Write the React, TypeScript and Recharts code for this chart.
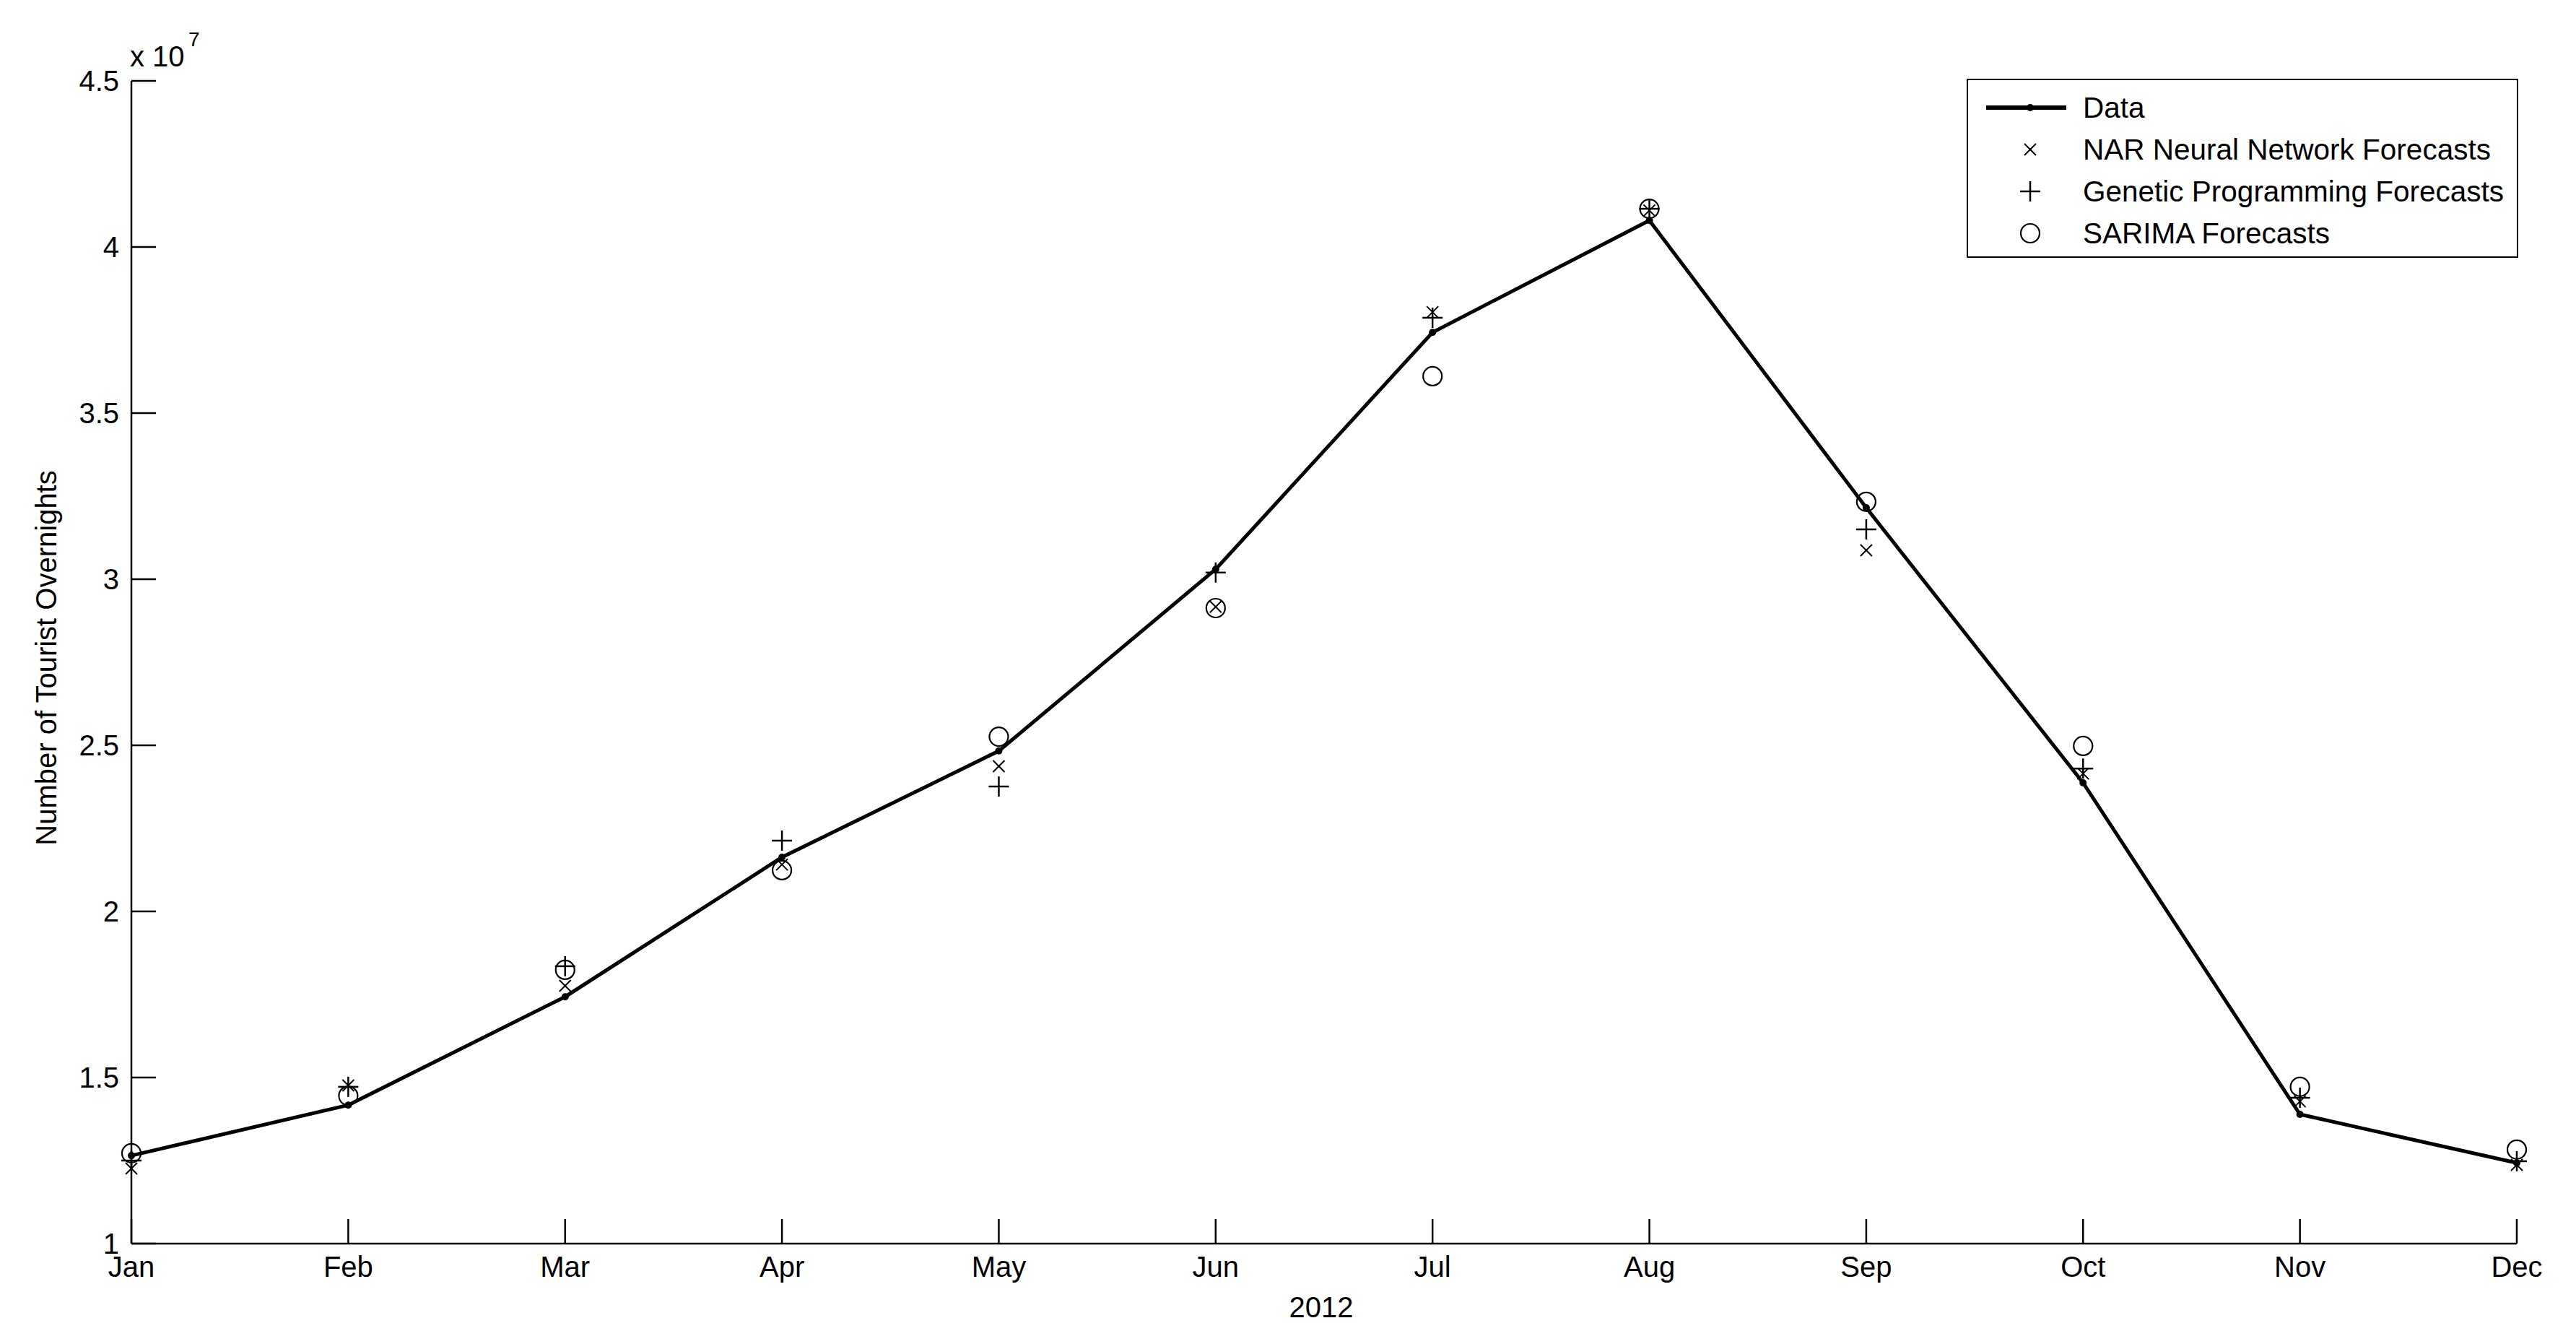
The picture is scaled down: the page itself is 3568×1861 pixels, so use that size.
import { LineChart, Line, XAxis, YAxis, Legend, Label } from "recharts";

const months = ["Jan", "Feb", "Mar", "Apr", "May", "Jun", "Jul", "Aug", "Sep", "Oct", "Nov", "Dec"];

// values, in units of 10^7 overnights
const actual = [1.265, 1.417, 1.743, 2.163, 2.483, 3.03, 3.743, 4.08, 3.215, 2.387, 1.389, 1.243];
const narForecast = [1.226, 1.476, 1.776, 2.141, 2.437, 2.917, 3.804, 4.11, 3.087, 2.415, 1.428, 1.237];
const gpForecast = [1.25, 1.472, 1.835, 2.213, 2.376, 3.02, 3.787, 4.115, 3.15, 2.43, 1.439, 1.248];
const sarimaForecast = [1.272, 1.445, 1.824, 2.124, 2.526, 2.913, 3.611, 4.115, 3.233, 2.498, 1.472, 1.283];

const yTicks = [1, 1.5, 2, 2.5, 3, 3.5, 4, 4.5].map((v) => v * 1e7);

const seriesNames = [
  "Data",
  "NAR Neural Network Forecasts",
  "Genetic Programming Forecasts",
  "SARIMA Forecasts",
];

const FONT = "'Liberation Sans', Arial, sans-serif";
const W = 3568;
const H = 1861;

const rows = months.map((m, i) => ({
  month: m,
  data: actual[i] * 1e7,
  nar: narForecast[i] * 1e7,
  gp: gpForecast[i] * 1e7,
  sarima: sarimaForecast[i] * 1e7,
}));

type DotProps = { cx?: number; cy?: number; index?: number };

function DataDot({ cx, cy, index }: DotProps) {
  if (cx == null || cy == null) return null;
  return <circle key={`d-${index}`} cx={cx} cy={cy} r={5} fill="#000" stroke="none" />;
}

function CrossDot({ cx, cy, index }: DotProps) {
  if (cx == null || cy == null) return null;
  const s = 8;
  return (
    <g key={`x-${index}`} stroke="#000" strokeWidth={2}>
      <line x1={cx - s} y1={cy - s} x2={cx + s} y2={cy + s} />
      <line x1={cx - s} y1={cy + s} x2={cx + s} y2={cy - s} />
    </g>
  );
}

function PlusDot({ cx, cy, index }: DotProps) {
  if (cx == null || cy == null) return null;
  const s = 14;
  return (
    <g key={`p-${index}`} stroke="#000" strokeWidth={2.5}>
      <line x1={cx - s} y1={cy} x2={cx + s} y2={cy} />
      <line x1={cx} y1={cy - s} x2={cx} y2={cy + s} />
    </g>
  );
}

function CircleDot({ cx, cy, index }: DotProps) {
  if (cx == null || cy == null) return null;
  return <circle key={`o-${index}`} cx={cx} cy={cy} r={13} fill="none" stroke="#000" strokeWidth={2.2} />;
}

function LegendIcon({ kind }: { kind: number }) {
  // 140 x 40 icon box, marker centred at 86
  return (
    <svg width={140} height={40} style={{ display: "block" }}>
      {kind === 0 && (
        <g>
          <line x1={25} y1={20} x2={136} y2={20} stroke="#000" strokeWidth={6} />
          <circle cx={86} cy={20} r={5} fill="#000" />
        </g>
      )}
      {kind === 1 && <CrossDot cx={86} cy={20} index={0} />}
      {kind === 2 && <PlusDot cx={86} cy={20} index={0} />}
      {kind === 3 && <CircleDot cx={86} cy={20} index={0} />}
    </svg>
  );
}

function renderLegend() {
  return (
    <div
      style={{
        boxSizing: "border-box",
        width: 764,
        height: 248,
        border: "2.5px solid #000",
        background: "#fff",
        paddingTop: 9,
        fontFamily: FONT,
        fontSize: 40.5,
        color: "#000",
      }}
    >
      {seriesNames.map((name, i) => (
        <div key={name} style={{ display: "flex", alignItems: "center", height: 58 }}>
          <LegendIcon kind={i} />
          <span style={{ marginLeft: 19, lineHeight: "40px" }}>{name}</span>
        </div>
      ))}
    </div>
  );
}

function YTitle(props: any) {
  const vb = props.viewBox || { x: 0, y: 112, width: 182, height: 1610 };
  const cy = vb.y + vb.height / 2 - 6;
  return (
    <g fontFamily={FONT} fill="#000">
      <text x={78} y={cy} fontSize={40} textAnchor="middle" transform={`rotate(-90 78 ${cy})`}>
        Number of Tourist Overnights
      </text>
      <text x={180} y={92} fontSize={40}>
        x 10
      </text>
      <text x={261} y={64} fontSize={28}>
        7
      </text>
    </g>
  );
}

function XTitle(props: any) {
  const vb = props.viewBox || { x: 182, y: 1722, width: 3304, height: 139 };
  return (
    <text x={vb.x + vb.width / 2 - 4} y={1824} fontFamily={FONT} fontSize={40} fill="#000" textAnchor="middle">
      2012
    </text>
  );
}

const axisStyle = { stroke: "#000", strokeWidth: 2.5 };
const tickStyle = { fill: "#000", fontSize: 40, fontFamily: FONT };

export default function App() {
  return (
    <div style={{ position: "absolute", left: 0, top: 0, width: W, height: H, background: "#fff" }}>
      <LineChart width={W} height={H} data={rows} margin={{ top: 112, right: 82, bottom: 0, left: 0 }}>
        <XAxis
          dataKey="month"
          height={139}
          interval={0}
          tickSize={-34}
          tickMargin={52}
          axisLine={axisStyle}
          tickLine={axisStyle}
          tick={tickStyle}
        >
          <Label content={XTitle} />
        </XAxis>
        <XAxis
          xAxisId="top"
          orientation="top"
          dataKey="month"
          height={0}
          interval={0}
          tickSize={-34}
          axisLine={axisStyle}
          tickLine={axisStyle}
          tick={false}
        />
        <YAxis
          width={182}
          type="number"
          domain={[1e7, 4.5e7]}
          ticks={yTicks}
          interval={0}
          allowDataOverflow
          tickSize={-34}
          tickMargin={51}
          axisLine={axisStyle}
          tickLine={axisStyle}
          tick={tickStyle}
          tickFormatter={(v: number) => String(Math.round((v / 1e7) * 10) / 10)}
        >
          <Label content={YTitle} />
        </YAxis>
        <YAxis
          yAxisId="right"
          orientation="right"
          width={0}
          type="number"
          domain={[1e7, 4.5e7]}
          ticks={yTicks}
          interval={0}
          allowDataOverflow
          tickSize={-34}
          axisLine={axisStyle}
          tickLine={axisStyle}
          tick={false}
        />
        <Legend
          layout="horizontal"
          verticalAlign="middle"
          align="center"
          wrapperStyle={{ left: 2724, top: 109, width: 764, height: 248 }}
          content={renderLegend}
        />
        <Line
          type="linear"
          dataKey="data"
          name={seriesNames[0]}
          stroke="#000"
          strokeWidth={5}
          dot={DataDot}
          activeDot={false}
          isAnimationActive={false}
        />
        <Line
          type="linear"
          dataKey="nar"
          name={seriesNames[1]}
          stroke="none"
          dot={CrossDot}
          activeDot={false}
          isAnimationActive={false}
        />
        <Line
          type="linear"
          dataKey="gp"
          name={seriesNames[2]}
          stroke="none"
          dot={PlusDot}
          activeDot={false}
          isAnimationActive={false}
        />
        <Line
          type="linear"
          dataKey="sarima"
          name={seriesNames[3]}
          stroke="none"
          dot={CircleDot}
          activeDot={false}
          isAnimationActive={false}
        />
      </LineChart>
    </div>
  );
}
